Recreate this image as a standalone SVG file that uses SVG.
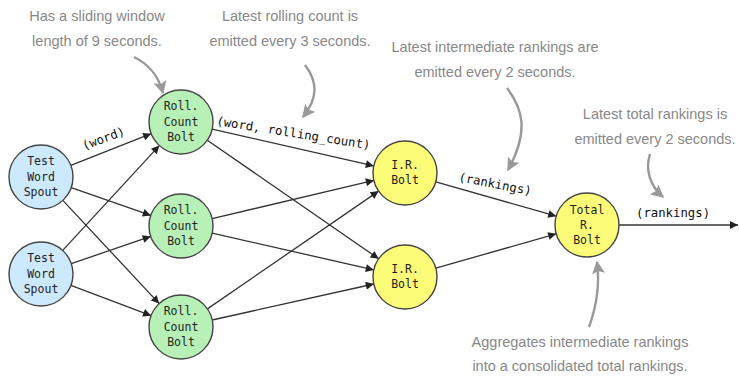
<svg xmlns="http://www.w3.org/2000/svg" width="739" height="376" viewBox="0 0 739 376">
<defs>
<marker id="ah" viewBox="0 0 10 10" refX="10" refY="5" markerWidth="10" markerHeight="8" markerUnits="userSpaceOnUse" orient="auto"><path d="M0,0 L10,5 L0,10 z" fill="#222"/></marker>
<marker id="gh" viewBox="0 0 10 10" refX="9" refY="5" markerWidth="13" markerHeight="13" markerUnits="userSpaceOnUse" orient="auto"><path d="M0,0 L10,5 L0,10 L2,5 z" fill="#999"/></marker>
</defs>
<style>
.n{stroke:#444;stroke-width:1.4}
.sp{fill:#cde9fd}.rc{fill:#b8f1b8}.ir{fill:#fdfc78}
.nt{font-family:"DejaVu Sans Mono","Liberation Mono",monospace;font-size:11.5px;fill:#222;text-anchor:middle}
.c{stroke:#333;stroke-width:1.3;fill:none;marker-end:url(#ah)}
.lb{font-family:"DejaVu Sans Mono","Liberation Mono",monospace;font-size:12.3px;fill:#111}
.an{font-family:"Liberation Sans",Arial,sans-serif;font-size:14.5px;fill:#888;text-anchor:middle}
.ga{stroke:#999;stroke-width:2.4;fill:none;marker-end:url(#gh)}
</style>
<rect width="739" height="376" fill="#fff"/>
<g id="connectors">
<line class="c" x1="70.8" y1="165.3" x2="151.2" y2="133.7"/>
<line class="c" x1="71.2" y1="187.6" x2="150.8" y2="215.4"/>
<line class="c" x1="62.8" y1="200.4" x2="159.2" y2="303.6"/>
<line class="c" x1="62.7" y1="250.4" x2="159.3" y2="145.6"/>
<line class="c" x1="71.3" y1="263.6" x2="150.7" y2="236.4"/>
<line class="c" x1="70.9" y1="285.3" x2="151.1" y2="315.7"/>
<line class="c" x1="212.2" y1="129.1" x2="373.8" y2="165.9"/>
<line class="c" x1="207.3" y1="140.2" x2="378.7" y2="258.8"/>
<line class="c" x1="212.1" y1="218.6" x2="373.9" y2="180.4"/>
<line class="c" x1="212.2" y1="233.1" x2="373.8" y2="269.9"/>
<line class="c" x1="207.4" y1="308.9" x2="378.6" y2="191.1"/>
<line class="c" x1="212.2" y1="320.0" x2="373.8" y2="284.0"/>
<line class="c" x1="435.8" y1="181.8" x2="556.2" y2="216.2"/>
<line class="c" x1="435.8" y1="268.2" x2="556.2" y2="233.8"/>
<line class="c" x1="619" y1="225" x2="738" y2="225"/>
</g>
<g id="edge-labels">
<text class="lb" transform="translate(84,150) rotate(-20)">(word)</text>
<text class="lb" transform="translate(216,125) rotate(9)">(word, rolling_count)</text>
<text class="lb" transform="translate(458,181) rotate(11)">(rankings)</text>
<text class="lb" x="636" y="217">(rankings)</text>
</g>
<g id="spout1"><circle class="n sp" cx="41" cy="177" r="32"/><text class="nt" x="41" y="165">Test</text><text class="nt" x="41" y="180.5">Word</text><text class="nt" x="41" y="196">Spout</text></g>
<g id="spout2"><circle class="n sp" cx="41" cy="274" r="32"/><text class="nt" x="41" y="262">Test</text><text class="nt" x="41" y="277.5">Word</text><text class="nt" x="41" y="293">Spout</text></g>
<g id="rcb1"><circle class="n rc" cx="181" cy="122" r="32"/><text class="nt" x="181" y="110">Roll.</text><text class="nt" x="181" y="125.5">Count</text><text class="nt" x="181" y="141">Bolt</text></g>
<g id="rcb2"><circle class="n rc" cx="181" cy="226" r="32"/><text class="nt" x="181" y="214">Roll.</text><text class="nt" x="181" y="229.5">Count</text><text class="nt" x="181" y="245">Bolt</text></g>
<g id="rcb3"><circle class="n rc" cx="181" cy="327" r="32"/><text class="nt" x="181" y="315">Roll.</text><text class="nt" x="181" y="330.5">Count</text><text class="nt" x="181" y="346">Bolt</text></g>
<g id="ir1"><circle class="n ir" cx="405" cy="173" r="32"/><text class="nt" x="405" y="169">I.R.</text><text class="nt" x="405" y="184">Bolt</text></g>
<g id="ir2"><circle class="n ir" cx="405" cy="277" r="32"/><text class="nt" x="405" y="273">I.R.</text><text class="nt" x="405" y="288">Bolt</text></g>
<g id="total"><circle class="n ir" cx="587" cy="225" r="32"/><text class="nt" x="587" y="214">Total</text><text class="nt" x="587" y="229">R.</text><text class="nt" x="587" y="244">Bolt</text></g>
<g id="annotations">
<text class="an" x="97" y="21">Has a sliding window</text>
<text class="an" x="97" y="46">length of 9 seconds.</text>
<path class="ga" d="M134,57 C148,64 158,74 163,93"/>
<text class="an" x="290" y="21">Latest rolling count is</text>
<text class="an" x="290" y="46">emitted every 3 seconds.</text>
<path class="ga" d="M305,65 C318,82 318,98 303,117"/>
<text class="an" x="495" y="52">Latest intermediate rankings are</text>
<text class="an" x="495" y="77">emitted every 2 seconds.</text>
<path class="ga" d="M507,88 C522,108 530,130 508,170"/>
<text class="an" x="655" y="119">Latest total rankings is</text>
<text class="an" x="655" y="144">emitted every 2 seconds.</text>
<path class="ga" d="M650,154 C645,170 650,186 663,197"/>
<text class="an" x="580" y="347">Aggregates intermediate rankings</text>
<text class="an" x="580" y="371">into a consolidated total rankings.</text>
<path class="ga" d="M589,327 C597,305 600,285 597,262"/>
</g>
</svg>
